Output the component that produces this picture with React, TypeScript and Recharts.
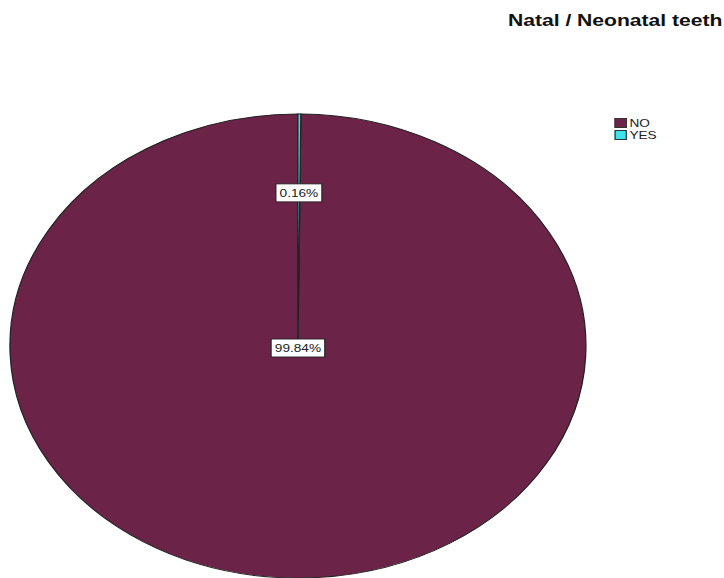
import { PieChart, Pie, Cell, Legend } from 'recharts';

const categories = ['NO', 'YES'];
const shares = [99.84, 0.16];
const colors = ['#6b2347', '#3de3ea'];
const title = 'Natal / Neonatal teeth';

const data = categories.map((name, i) => ({ name, value: shares[i] }));

// source image is stretched horizontally; draw a round pie and stretch it the same way
const STRETCH = 1.2414;
const W = 583;
const H = 578;
const FONT = '"Liberation Sans", Arial, sans-serif';

interface LabelProps {
  cx: number;
  cy: number;
  midAngle: number;
  outerRadius: number;
  percent: number;
  index: number;
}

function renderLabel({ cx, cy, midAngle, outerRadius, percent, index }: LabelProps) {
  const r = index === 0 ? 0 : outerRadius * 0.66;
  const rad = (midAngle * Math.PI) / 180;
  const x = cx + r * Math.cos(rad);
  const y = cy - r * Math.sin(rad) + (index === 0 ? 2 : 0);
  const text = `${(percent * 100).toFixed(2)}%`;
  const w = text.length * 6.2 + 6;
  return (
    <g>
      <rect x={x - w / 2} y={y - 9} width={w} height={18} fill="#fff" stroke="#222" strokeWidth={0.9} />
      <text x={x} y={y + 4} textAnchor="middle" fontSize={11} fontFamily={FONT} fill="#222">
        {text}
      </text>
    </g>
  );
}

interface LegendEntry {
  value: string;
  color: string;
}

function renderLegend({ payload }: { payload?: LegendEntry[] }) {
  return (
    <div style={{ fontFamily: FONT, fontSize: 11, lineHeight: '12px', color: '#222' }}>
      {(payload ?? []).map((p) => (
        <div key={p.value} style={{ display: 'flex', alignItems: 'center', height: 12 }}>
          <span
            style={{
              display: 'inline-block',
              width: 8,
              height: 8,
              background: p.color,
              border: '1px solid #333',
              marginRight: 2,
            }}
          />
          <span>{p.value}</span>
        </div>
      ))}
    </div>
  );
}

export default function App() {
  return (
    <div
      style={{
        position: 'absolute',
        left: 0,
        top: 0,
        width: W,
        height: H,
        transform: `scaleX(${STRETCH})`,
        transformOrigin: '0 0',
        background: '#fff',
      }}
    >
      <PieChart width={W} height={H} margin={{ top: 0, right: 0, bottom: 0, left: 0 }}>
        <Pie
          data={data}
          dataKey="value"
          nameKey="name"
          cx={240}
          cy={346}
          outerRadius={232}
          startAngle={90}
          endAngle={450}
          stroke="#222"
          strokeWidth={1}
          label={renderLabel}
          labelLine={false}
          isAnimationActive={false}
        >
          {data.map((d, i) => (
            <Cell key={d.name} fill={colors[i]} />
          ))}
        </Pie>
        <Legend
          content={renderLegend}
          layout="vertical"
          wrapperStyle={{ position: 'absolute', left: 495, top: 117, width: 60 }}
        />
      </PieChart>
      <svg
        width={W}
        height={60}
        style={{ position: 'absolute', left: 0, top: 0, pointerEvents: 'none' }}
      >
        <text x={582} y={26} textAnchor="end" fontSize={17} fontWeight="bold" fontFamily={FONT} fill="#111">
          {title}
        </text>
      </svg>
    </div>
  );
}
